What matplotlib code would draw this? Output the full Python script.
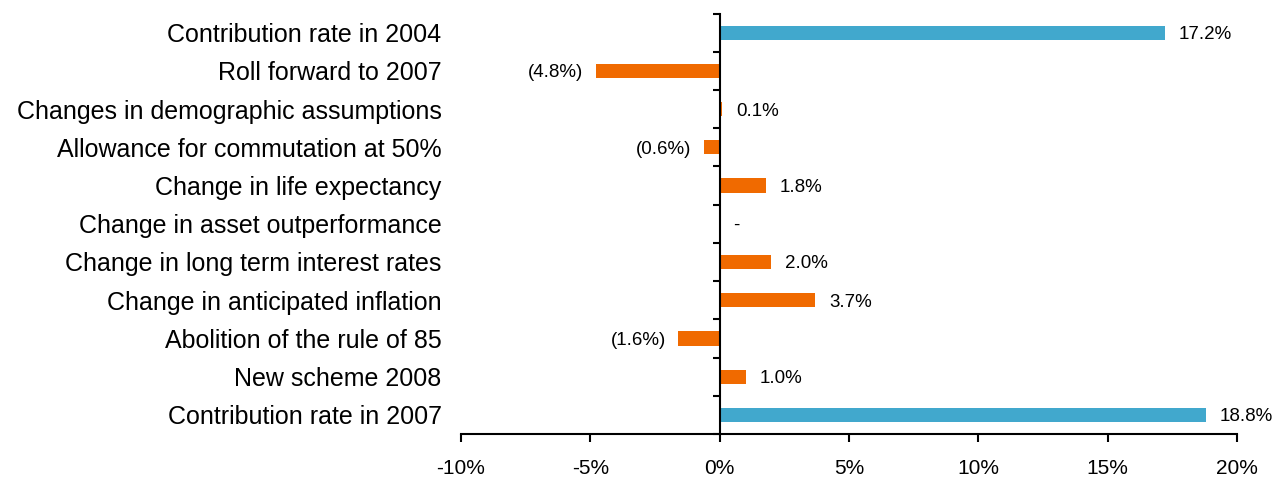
import matplotlib
matplotlib.use("Agg")
import matplotlib.pyplot as plt
import numpy as np

plt.rcParams['font.family'] = ['Liberation Sans', 'DejaVu Sans']

categories = [
    "Contribution rate in 2004",
    "Roll forward to 2007",
    "Changes in demographic assumptions",
    "Allowance for commutation at 50%",
    "Change in life expectancy",
    "Change in asset outperformance",
    "Change in long term interest rates",
    "Change in anticipated inflation",
    "Abolition of the rule of 85",
    "New scheme 2008",
    "Contribution rate in 2007",
]
values = [17.2, -4.8, 0.1, -0.6, 1.8, 0.0, 2.0, 3.7, -1.6, 1.0, 18.8]
is_total = [True, False, False, False, False, False, False, False, False, False, True]
xticks = [-10, -5, 0, 5, 10, 15, 20]

BLUE = "#41A8CD"
ORANGE = "#F06A00"

fig = plt.figure(figsize=(12.81, 4.80), dpi=100)
ax = fig.add_axes([461 / 1281, 1 - 434 / 480, (1237 - 461) / 1281, (434 - 13.5) / 480])

y = np.arange(len(categories))
colors = [BLUE if t else ORANGE for t in is_total]
ax.barh(y, values, height=0.37, color=colors, zorder=2)

ax.set_xlim(-10, 20)
ax.set_ylim(len(categories) - 0.5, -0.5)

# value labels
for yi, v in zip(y, values):
    if v > 0:
        ax.annotate(f"{v:.1f}%", (v, yi), xytext=(10, 0), textcoords="offset points",
                    ha="left", va="center_baseline", fontsize=13.5)
    elif v < 0:
        ax.annotate(f"({abs(v):.1f}%)", (v, yi), xytext=(-9, 0), textcoords="offset points",
                    ha="right", va="center_baseline", fontsize=13.5)
    else:
        ax.annotate("-", (v, yi), xytext=(10, 0), textcoords="offset points",
                    ha="left", va="center_baseline", fontsize=13.5)

# category labels on the left, axis line at zero with ticks between categories
ax.set_yticks(y)
ax.set_yticklabels(categories)
ax.set_yticks(np.arange(len(categories) + 1) - 0.5, minor=True)
ax.spines['left'].set_visible(False)
ax.spines['top'].set_visible(False)
ax.spines['right'].set_position(('data', 0))
ax.spines['right'].set_linewidth(1.5)
ax.tick_params(axis='y', which='major', left=False, right=False, labelleft=True,
               labelright=False, length=0, pad=14, labelsize=18)
ax.tick_params(axis='y', which='minor', left=False, right=True, direction='in',
               length=5, width=1.5)

ax.set_xticks(xticks)
ax.set_xticklabels([f"{t}%" for t in xticks])
ax.spines['bottom'].set_linewidth(1.5)
ax.tick_params(axis='x', direction='out', length=6, width=1.5, pad=12, labelsize=15)

fig.savefig("out.png", dpi=100)
